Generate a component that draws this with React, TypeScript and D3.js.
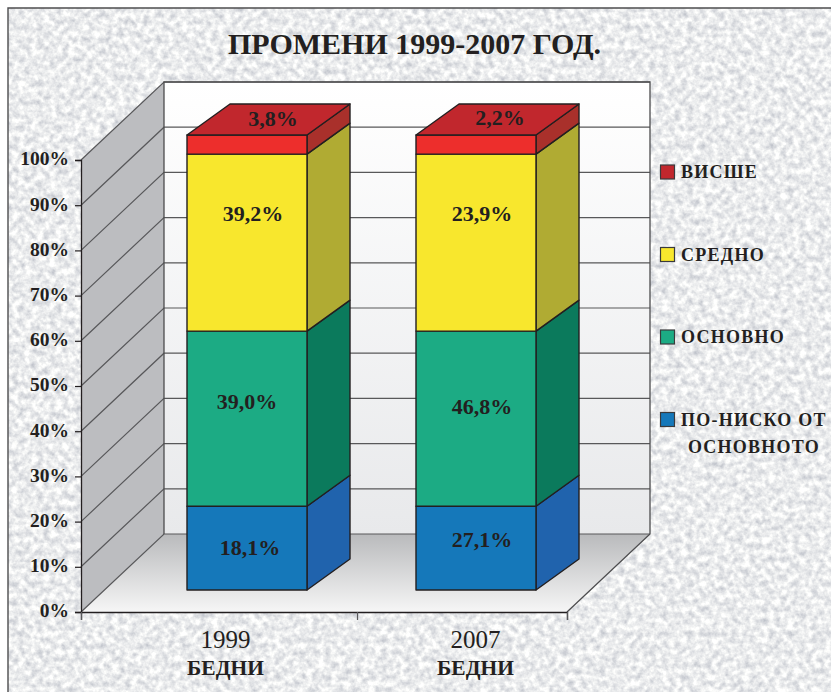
import * as React from 'react';
import * as d3 from 'd3';

const title = 'ПРОМЕНИ 1999-2007 ГОД.';
const years = ['1999', '2007'];
const subLabel = 'БЕДНИ';
const yTicks = [0, 10, 20, 30, 40, 50, 60, 70, 80, 90, 100];
const keys = ['lower', 'primary', 'secondary', 'higher'];
const legendLabels = ['ВИСШЕ', 'СРЕДНО', 'ОСНОВНО', 'ПО-НИСКО ОТ'];
const legendSecondLine = 'ОСНОВНОТО';

// heights as they are drawn in the picture, both columns have the same blocks
const drawn1999 = [18.4, 38.5, 38.9, 4.2];
const drawn2007 = [18.4, 38.5, 38.9, 4.2];
// printed labels
const labels1999 = ['18,1%', '39,0%', '39,2%', '3,8%'];
const labels2007 = ['27,1%', '46,8%', '23,9%', '2,2%'];

const frontColors = ['#1578ba', '#1cab84', '#f8e72d', '#ed2e2c'];
const sideColors = ['#2063ad', '#0b7a5c', '#b0ab33', '#a9302b'];
const topColor = '#c1272d';
const legendColors = ['#c1272d', '#f8e72d', '#1cab84', '#1578ba'];
const ink = '#231f20';

const width = 831;
const height = 692;

export default function App() {
  const ref = React.useRef<SVGSVGElement>(null);

  React.useEffect(() => {
    const svg = d3.select(ref.current);
    svg.selectAll('*').remove();

    const defs = svg.append('defs');

    // speckled paper behind the chart
    const paper = defs.append('filter').attr('id', 'paper')
      .attr('x', 0).attr('y', 0).attr('width', '100%').attr('height', '100%')
      .attr('color-interpolation-filters', 'sRGB');
    paper.append('feTurbulence')
      .attr('type', 'fractalNoise').attr('baseFrequency', 0.16)
      .attr('numOctaves', 3).attr('seed', 7);
    paper.append('feColorMatrix').attr('type', 'matrix')
      .attr('values', '0.4 0 0 0 0.72  0.38 0 0 0 0.735  0.32 0 0 0 0.77  0 0 0 0 1');
    paper.append('feGaussianBlur').attr('stdDeviation', 0.6);

    const wallGrad = defs.append('linearGradient').attr('id', 'wall')
      .attr('x1', 0).attr('y1', 0).attr('x2', 0).attr('y2', 1);
    wallGrad.append('stop').attr('offset', 0).attr('stop-color', '#ffffff');
    wallGrad.append('stop').attr('offset', 1).attr('stop-color', '#e8e9eb');

    const floorGrad = defs.append('linearGradient').attr('id', 'floor')
      .attr('x1', 0).attr('y1', 0).attr('x2', 0).attr('y2', 1);
    floorGrad.append('stop').attr('offset', 0).attr('stop-color', '#b9babc');
    floorGrad.append('stop').attr('offset', 1).attr('stop-color', '#f6f6f6');

    const font = '"Liberation Serif", serif';
    const line = d3.line();

    // frame
    svg.append('rect').attr('x', 8).attr('y', 8).attr('width', width).attr('height', height)
      .attr('filter', 'url(#paper)');
    svg.append('path')
      .attr('d', line([[8, height], [8, 8], [width, 8]]))
      .attr('fill', 'none').attr('stroke', '#4d4d4f').attr('stroke-width', 1.4);

    // 3d box
    const yFront = d3.scaleLinear().domain([0, 100]).range([612, 160]);
    const depthX = 83;
    const depthY = -78;
    const yBack = (v: number) => yFront(v) + depthY;
    const xLeft = 81;
    const xRight = 567;

    const chart = svg.append('g');

    chart.append('path')
      .attr('d', line([[xLeft, yFront(0)], [xLeft, yFront(100)], [xLeft + depthX, yBack(100)], [xLeft + depthX, yBack(0)]]) + 'Z')
      .attr('fill', '#bcbdc0');
    chart.append('rect')
      .attr('x', xLeft + depthX).attr('y', yBack(100))
      .attr('width', xRight - xLeft).attr('height', yBack(0) - yBack(100))
      .attr('fill', 'url(#wall)');
    chart.append('path')
      .attr('d', line([[xLeft, yFront(0)], [xLeft + depthX, yBack(0)], [xRight + depthX, yBack(0)], [xRight, yFront(0)]]) + 'Z')
      .attr('fill', 'url(#floor)');

    // gridlines run up the side wall and along the back
    chart.append('g').selectAll('path').data(yTicks).enter().append('path')
      .attr('d', d => line([[xLeft, yFront(d)], [xLeft + depthX, yBack(d)], [xRight + depthX, yBack(d)]]))
      .attr('fill', 'none').attr('stroke', '#58585a').attr('stroke-width', 1.2);
    chart.append('path')
      .attr('d', line([[xLeft + depthX, yBack(0)], [xLeft + depthX, yBack(100)], [xRight + depthX, yBack(100)], [xRight + depthX, yBack(0)], [xRight, yFront(0)]]))
      .attr('fill', 'none').attr('stroke', '#4d4d4f').attr('stroke-width', 1.3);

    // axes
    const yAxis = d3.axisLeft(yFront).tickValues(yTicks).tickSize(6).tickFormat(d => `${d}%`);
    const yG = chart.append('g').attr('transform', `translate(${xLeft},0)`).call(yAxis);
    yG.selectAll('text')
      .attr('font-family', font).attr('font-size', 19.5).attr('font-weight', 'bold').attr('fill', ink)
      .attr('x', -12).attr('dy', '0.25em');
    yG.selectAll('line').attr('stroke', ink).attr('stroke-width', 1.2);
    yG.select('.domain').attr('stroke', ink).attr('stroke-width', 1.3);

    const xTickScale = d3.scaleLinear().domain([0, 1, 2]).range([xLeft, 357, xRight]);
    const xG = chart.append('g').attr('transform', `translate(0,${yFront(0)})`)
      .call(d3.axisBottom(xTickScale).tickValues([0, 1, 2]).tickSize(8).tickFormat(() => ''));
    xG.selectAll('line').attr('stroke', '#58585a').attr('stroke-width', 1.2);
    xG.select('.domain').attr('stroke', ink).attr('stroke-width', 1.3);

    const xLabel = d3.scalePoint<string>().domain(years).range([225.5, 475.5]);
    const xLabels = chart.append('g').selectAll('g').data(years).enter().append('g')
      .attr('transform', d => `translate(${xLabel(d)},0)`)
      .attr('text-anchor', 'middle').attr('font-family', font).attr('fill', ink);
    xLabels.append('text').attr('y', 648).attr('font-size', 25).text(d => d);
    xLabels.append('text').attr('y', 675).attr('font-size', 21.5).attr('font-weight', 'bold').text(subLabel);

    // stacked columns
    const barCenter = d3.scalePoint<string>().domain(years).range([247, 476]);
    const barWidth = 120;
    const barDx = 43;
    const barDy = -31;
    const yBar = d3.scaleLinear().domain([0, 100]).range([590, 135]);

    const rows = years.map((year, i) => {
      const vals = i === 0 ? drawn1999 : drawn2007;
      const row: Record<string, any> = { year };
      keys.forEach((k, j) => { row[k] = vals[j]; });
      return row;
    });
    const series = d3.stack<any>().keys(keys)(rows);

    series.forEach((s, j) => {
      s.forEach((d, i) => {
        const x0 = barCenter(years[i])! - barWidth / 2;
        const x1 = x0 + barWidth;
        const y0 = yBar(d[0]);
        const y1 = yBar(d[1]);
        const g = chart.append('g').attr('stroke', ink).attr('stroke-width', 1.4).attr('stroke-linejoin', 'round');
        g.append('path')
          .attr('d', line([[x1, y0], [x1 + barDx, y0 + barDy], [x1 + barDx, y1 + barDy], [x1, y1]]) + 'Z')
          .attr('fill', sideColors[j]);
        g.append('rect')
          .attr('x', x0).attr('y', y1).attr('width', barWidth).attr('height', y0 - y1)
          .attr('fill', frontColors[j]);
        if (j === keys.length - 1) {
          g.append('path')
            .attr('d', line([[x0, y1], [x0 + barDx, y1 + barDy], [x1 + barDx, y1 + barDy], [x1, y1]]) + 'Z')
            .attr('fill', topColor);
        }
      });
    });

    // printed labels sit by hand in the original, so nudge them off the segment middle
    const nudges = [
      [[3, -1], [0, -17], [6, -29], [26, -26]],
      [[6, -9], [6, -12], [6, -29], [24, -27]],
    ];
    years.forEach((year, i) => {
      const texts = i === 0 ? labels1999 : labels2007;
      series.forEach((s, j) => {
        const d = s[i];
        chart.append('text')
          .attr('x', barCenter(year)! + nudges[i][j][0])
          .attr('y', (yBar(d[0]) + yBar(d[1])) / 2 + nudges[i][j][1])
          .attr('dy', '0.34em')
          .attr('text-anchor', 'middle')
          .attr('font-family', font).attr('font-size', 22).attr('font-weight', 'bold')
          .attr('fill', ink)
          .text(texts[j]);
      });
    });

    // title
    svg.append('text')
      .attr('x', 414.5).attr('y', 54).attr('text-anchor', 'middle')
      .attr('font-family', font).attr('font-size', 30).attr('font-weight', 'bold').attr('fill', ink)
      .text(title);

    // legend
    const legendY = d3.scalePoint<string>().domain(legendLabels).range([172, 419.5]);
    const legend = svg.append('g').selectAll('g').data(legendLabels).enter().append('g')
      .attr('transform', d => `translate(660,${legendY(d)})`);
    legend.append('rect')
      .attr('x', 0.5).attr('y', -7).attr('width', 14).attr('height', 14)
      .attr('fill', (d, i) => legendColors[i])
      .attr('stroke', '#3a3a3c').attr('stroke-width', 1.2);
    legend.append('text')
      .attr('x', 21).attr('dy', '0.34em')
      .attr('font-family', font).attr('font-size', 18).attr('font-weight', 'bold')
      .attr('letter-spacing', 1.25).attr('fill', ink)
      .text(d => d);
    svg.append('text')
      .attr('x', 754).attr('y', legendY(legendLabels[3])! + 27.5).attr('dy', '0.34em')
      .attr('text-anchor', 'middle')
      .attr('font-family', font).attr('font-size', 18).attr('font-weight', 'bold')
      .attr('letter-spacing', 1.25).attr('fill', ink)
      .text(legendSecondLine);
  }, []);

  return (
    <svg ref={ref} width={width} height={height}
      style={{ position: 'absolute', left: 0, top: 0, display: 'block', background: '#fff' }} />
  );
}
